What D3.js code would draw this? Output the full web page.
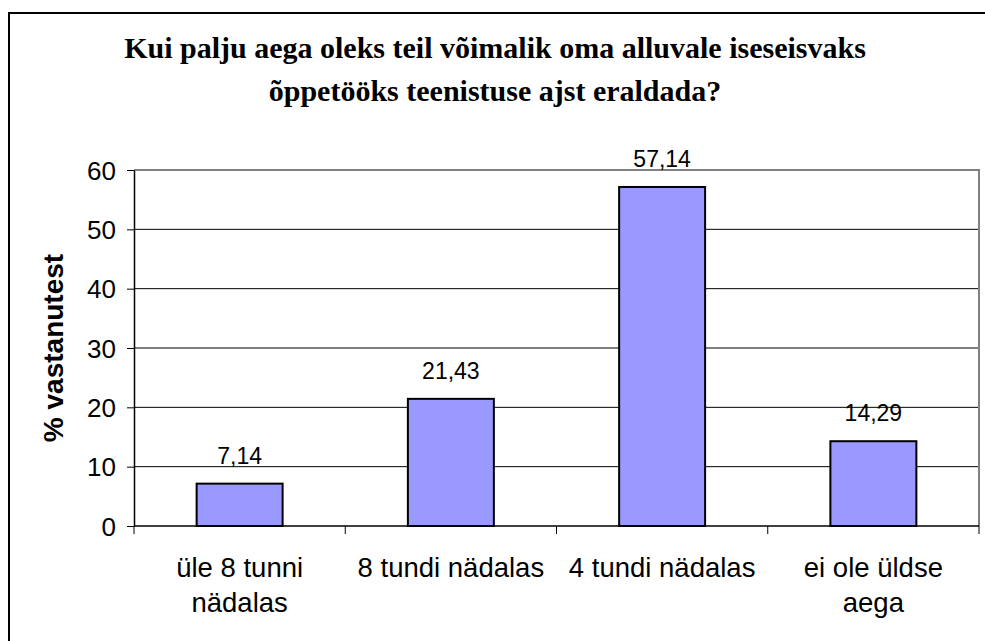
<!DOCTYPE html>
<html>
<head>
<meta charset="utf-8">
<script src="https://cdn.jsdelivr.net/npm/d3@7"></script>
<style>
  body { margin: 0; background: #fff; }
  svg text { font-family: "Liberation Sans", Arial, sans-serif; fill: #000; }
</style>
</head>
<body>
<div id="chart"></div>
<script>
const categories = [["üle 8 tunni", "nädalas"], ["8 tundi nädalas"], ["4 tundi nädalas"], ["ei ole üldse", "aega"]];
const values = [7.14, 21.43, 57.14, 14.29];
const labels = ["7,14", "21,43", "57,14", "14,29"];
const yTicks = [0, 10, 20, 30, 40, 50, 60];
const titleLines = ["Kui palju aega oleks teil võimalik oma alluvale iseseisvaks", "õppetööks teenistuse ajst eraldada?"];
const yTitle = "% vastanutest";

const W = 985, H = 641;
const plot = { left: 134, right: 979, top: 170, bottom: 526 };

const svg = d3.select('#chart').append('svg')
  .attr('width', W)
  .attr('height', H);

// outer chart frame (runs off the right and bottom edge)
svg.append('rect')
  .attr('x', 9).attr('y', 13)
  .attr('width', 1100).attr('height', 800)
  .attr('fill', 'none')
  .attr('stroke', '#000')
  .attr('stroke-width', 2);

// title
svg.append('g').selectAll('text')
  .data(titleLines)
  .enter()
  .append('text')
  .attr('x', 495)
  .attr('y', (d, i) => 58 + i * 43)
  .attr('text-anchor', 'middle')
  .style('font-family', '"Liberation Serif", "Times New Roman", serif')
  .style('font-weight', 'bold')
  .style('font-size', '30px')
  .text(d => d);

const x = d3.scaleBand()
  .domain(d3.range(categories.length))
  .range([plot.left, plot.right])
  .paddingInner(0.593)
  .paddingOuter(0.2965);

const slot = d3.scaleBand()
  .domain(d3.range(categories.length))
  .range([plot.left, plot.right]);

const y = d3.scaleLinear().domain([0, 60]).range([plot.bottom, plot.top]);

// gridlines
svg.append('g').selectAll('line')
  .data(yTicks.filter(t => t > 0 && t < 60))
  .enter()
  .append('line')
  .attr('x1', plot.left).attr('x2', plot.right)
  .attr('y1', d => y(d)).attr('y2', d => y(d))
  .attr('stroke', '#000')
  .attr('stroke-width', 1);

// plot area border (grey top and right)
svg.append('path')
  .attr('d', `M${plot.left},${y(60)}H${plot.right}V${plot.bottom}`)
  .attr('fill', 'none')
  .attr('stroke', '#808080')
  .attr('stroke-width', 2);

// bars
svg.append('g').selectAll('rect')
  .data(values)
  .enter()
  .append('rect')
  .attr('x', (d, i) => x(i))
  .attr('y', d => y(d))
  .attr('width', x.bandwidth())
  .attr('height', d => y(0) - y(d))
  .attr('fill', '#9999FF')
  .attr('stroke', '#000')
  .attr('stroke-width', 2);

// data labels
svg.append('g').selectAll('text')
  .data(values)
  .enter()
  .append('text')
  .attr('x', (d, i) => x(i) + x.bandwidth() / 2)
  .attr('y', d => y(d) - 20)
  .attr('text-anchor', 'middle')
  .style('font-size', '23px')
  .text((d, i) => labels[i]);

// y axis
const yAxis = d3.axisLeft(y).tickValues(yTicks).tickSize(7).tickSizeOuter(0).tickPadding(11);
const gy = svg.append('g')
  .attr('transform', `translate(${plot.left},0)`)
  .call(yAxis);
gy.select('.domain').attr('stroke', '#000').attr('stroke-width', 1.5);
gy.selectAll('.tick line').attr('stroke', '#000');
gy.selectAll('.tick text')
  .style('font-size', '26px')
  .style('font-family', '"Liberation Sans", Arial, sans-serif')
  .attr('dy', '0.35em');

// x axis: ticks at category boundaries
svg.append('line')
  .attr('x1', plot.left).attr('x2', plot.right)
  .attr('y1', y(0)).attr('y2', y(0))
  .attr('stroke', '#000')
  .attr('stroke-width', 1.5);

svg.append('g').selectAll('line')
  .data(d3.range(categories.length + 1))
  .enter()
  .append('line')
  .attr('x1', i => i < categories.length ? slot(i) : plot.right)
  .attr('x2', i => i < categories.length ? slot(i) : plot.right)
  .attr('y1', y(0)).attr('y2', y(0) + 8)
  .attr('stroke', '#000');

// category labels
const cat = svg.append('g').selectAll('text')
  .data(categories)
  .enter()
  .append('text')
  .attr('text-anchor', 'middle')
  .style('font-size', '27.5px');

cat.selectAll('tspan')
  .data((d, i) => d.map(line => ({ line, i })))
  .enter()
  .append('tspan')
  .attr('x', d => slot(d.i) + slot.bandwidth() / 2)
  .attr('y', (d, j) => 577 + j * 35)
  .text(d => d.line);

// y axis title
svg.append('text')
  .attr('transform', `translate(63,${(plot.top + plot.bottom) / 2}) rotate(-90)`)
  .attr('text-anchor', 'middle')
  .style('font-weight', 'bold')
  .style('font-size', '28px')
  .text(yTitle);
</script>
</body>
</html>
